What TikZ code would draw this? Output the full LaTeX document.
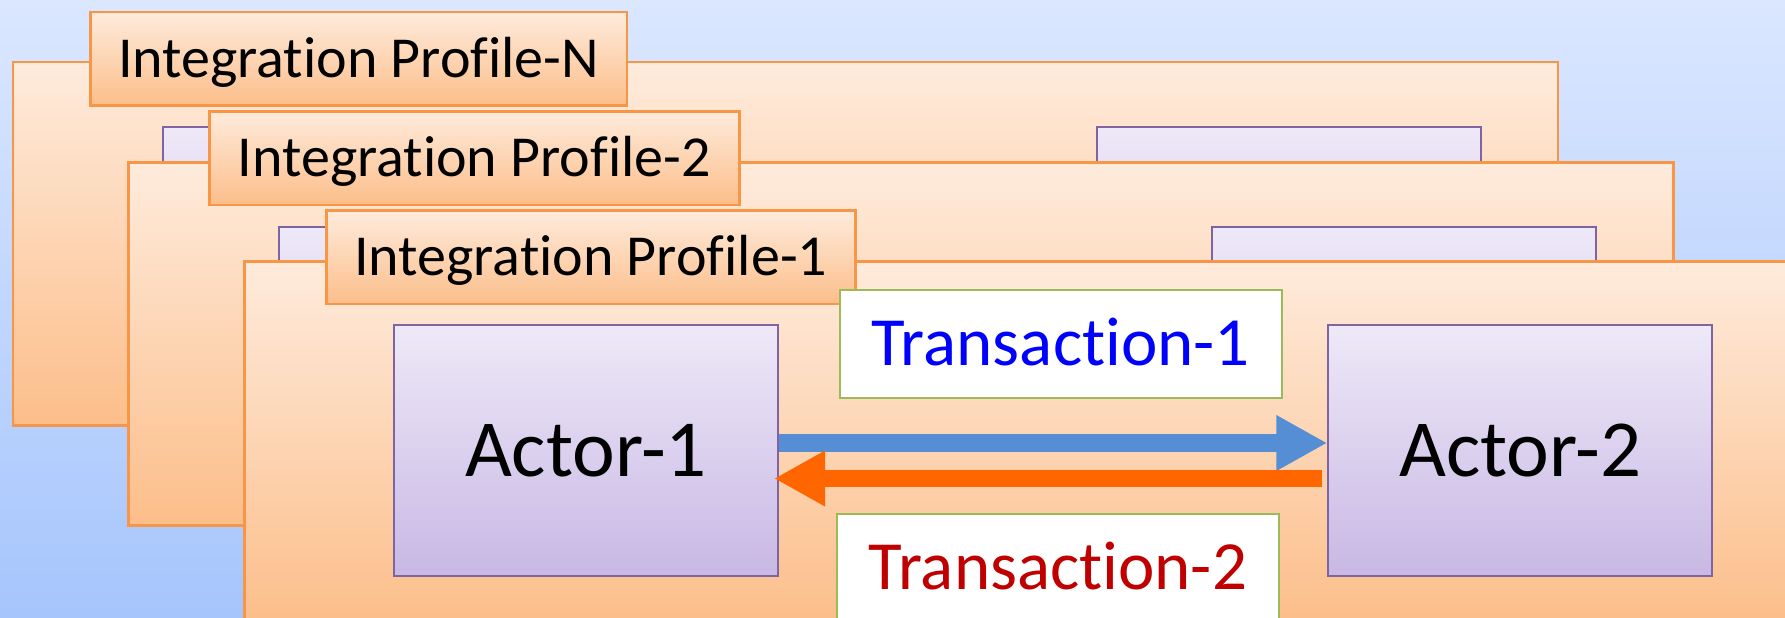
\documentclass[tikz,border=0pt]{standalone}
\usepackage{fontspec}
\setmainfont{Carlito}[Ligatures=NoCommon]
\usetikzlibrary{arrows.meta}
\definecolor{bgtop}{RGB}{219,231,255}
\definecolor{bgbot}{RGB}{166,197,252}
\definecolor{pftop}{RGB}{254,235,220}
\definecolor{pfbot}{RGB}{252,190,138}
\definecolor{pfline}{RGB}{247,150,70}
\definecolor{actop}{RGB}{238,233,248}
\definecolor{acbot}{RGB}{200,184,228}
\definecolor{acline}{RGB}{128,100,162}
\definecolor{trline}{RGB}{155,187,89}
\definecolor{blarrow}{RGB}{85,142,213}
\definecolor{orarrow}{RGB}{255,102,0}
\definecolor{trone}{RGB}{0,0,255}
\definecolor{trtwo}{RGB}{192,0,0}
\begin{document}
\begin{tikzpicture}[x=1pt,y=-1pt,
  bgbox/.style={top color=bgtop, bottom color=bgbot, minimum width=1785pt, minimum height=618pt, anchor=north west, inner sep=0pt, outer sep=0pt},
  profile/.style={draw=pfline, line width=2.5pt, top color=pftop, bottom color=pfbot, minimum width=1545pt, minimum height=363pt, anchor=north west, inner sep=0pt},
  ptab/.style={draw=pfline, line width=2.5pt, top color=pftop, bottom color=pfbot, minimum width=530pt, minimum height=93.5pt, anchor=north west, inner sep=0pt, font=\fontsize{58}{60}\selectfont, text height=37pt, text depth=0pt},
  actor/.style={draw=acline, line width=2pt, top color=actop, bottom color=acbot, minimum width=384pt, minimum height=251pt, anchor=north west, inner sep=0pt, font=\fontsize{81}{84}\selectfont, text height=52pt, text depth=0pt},
  trans/.style={draw=trline, line width=2pt, fill=white, minimum width=441.5pt, minimum height=108pt, anchor=north west, inner sep=0pt, font=\fontsize{69}{72}\selectfont, text height=44.5pt, text depth=0pt},
  flow/.style={line width=17.4pt, -{Triangle[length=51pt,width=52pt]}}
]
\clip (0,0) rectangle (1785,618);
\node[bgbox] (bg) at (0,0) {};
% Profile N
\node[profile] (pN) at (11.5,61) {};
\node[actor] (aN1) at (161.5,125.5) {};
\node[actor] (aN2) at (1096,125.5) {};
\node[ptab, minimum width=536.6pt] (tN) at (89,10.7) {Integration Profile-N};
% Profile 2
\node[profile] (p2) at (127,161) {};
\node[actor] (a21) at (278,225.7) {};
\node[actor] (a22) at (1211,225.7) {};
\node[ptab] (t2) at (208,110) {Integration Profile-2};
% Profile 1
\node[profile] (p1) at (243,260) {};
\node[actor] (a1) at (393,324.3) {Actor-1};
\node[actor] (a2) at (1327.3,324.3) {Actor-2};
\node[ptab, minimum width=529pt] (t1) at (325,209.3) {Integration Profile-1};
\node[trans, text=trone] (x1) at (839,288.7) {Transaction-1};
\node[trans, text=trtwo] (x2) at (836.3,512.7) {Transaction-2};
\draw[flow, blarrow] ([yshift=7.8pt]a1.east) -- ([yshift=7.8pt]a2.west);
\draw[flow, orarrow, line width=17pt] ([yshift=-27.7pt,xshift=-5pt]a2.west) -- ([yshift=-27.7pt,xshift=-5pt]a1.east);
\end{tikzpicture}
\end{document}
